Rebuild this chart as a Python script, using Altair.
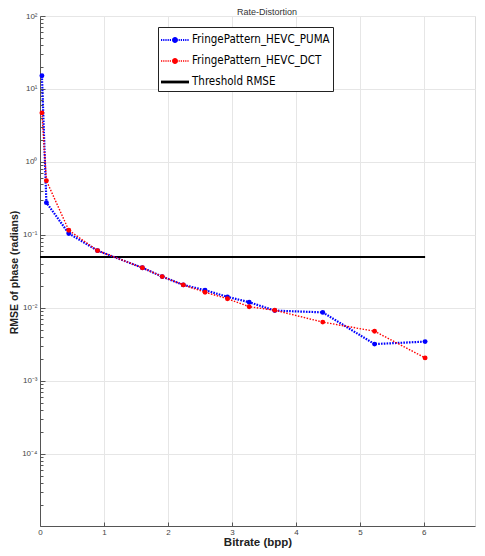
import altair as alt
import pandas as pd

# ---- data ----
bitrate = [0.03, 0.10, 0.45, 0.90, 1.60, 1.91, 2.24, 2.58, 2.93, 3.27, 3.67, 4.42, 5.23, 6.02]
rmse_puma = [15.2, 0.277, 0.105, 0.061, 0.0356, 0.0269, 0.0207, 0.0175, 0.0142, 0.0120, 0.0092, 0.0087, 0.0032, 0.00346]
rmse_dct = [4.7, 0.555, 0.116, 0.061, 0.0356, 0.0269, 0.0207, 0.0164, 0.0134, 0.0104, 0.0093, 0.0064, 0.0048, 0.00207]
threshold_bitrate = [0.0, 6.02]
threshold_rmse = [0.05, 0.05]
series = ["FringePattern_HEVC_PUMA", "FringePattern_HEVC_DCT", "Threshold RMSE"]
colors = ["#0000ff", "#ff0000", "#000000"]
chart_title = ["Rate-Distortion"]
x_ticks = [0, 1, 2, 3, 4, 5, 6, 7]
y_major = [0.0001, 0.001, 0.01, 0.1, 1, 10, 100]
y_minor = [round(k * 10.0 ** e, 8) for e in range(-5, 2) for k in range(1, 10)] + [100]

rows = []
for x, y in zip(bitrate, rmse_puma):
    rows.append({"series": series[0], "bitrate": x, "rmse": y})
for x, y in zip(bitrate, rmse_dct):
    rows.append({"series": series[1], "bitrate": x, "rmse": y})
for x, y in zip(threshold_bitrate, threshold_rmse):
    rows.append({"series": series[2], "bitrate": x, "rmse": y})
df = pd.DataFrame(rows)

W, H = 435, 510
FONT = "Liberation Sans, Arial, sans-serif"
LEG_FONT = "Liberation Sans Narrow, DejaVu Sans Condensed, Liberation Sans"


# ---- legend symbol paths (dotted line + marker), unit = half symbol size ----
def dotted_path(h, with_circle):
    parts = []
    x = -1.0
    while x < 1.75:
        if not (with_circle and 0.05 < x + 0.06 < 0.75):
            parts.append(f"M{x:.3f},{-h/2:.3f}h0.12v{h:.3f}h-0.12Z")
        x += 0.22
    if with_circle:
        parts.append("M0.7,0A0.3,0.3,0,1,1,0.1,0A0.3,0.3,0,1,1,0.7,0Z")
    return "".join(parts)


shape_range = [
    dotted_path(0.22, True),
    dotted_path(0.16, True),
    "M-1,-0.14H1.8V0.14H-1Z",
]

color_scale = alt.Scale(domain=series, range=colors)
xs = alt.Scale(domain=[0, 6.8], nice=False, zero=False)
ys = alt.Scale(type="log", domain=[0.0000103, 100], nice=False)

ylab = ("datum.value==100?'10²':datum.value==10?'10¹':datum.value==1?'10⁰':"
        "datum.value==0.1?'10⁻¹':datum.value==0.01?'10⁻²':datum.value==0.001?'10⁻³':"
        "datum.value==0.0001?'10⁻⁴':''")

legend_cfg = dict(
    title=None, orient="none", legendX=118, legendY=11,
    symbolSize=400, symbolOpacity=1, symbolStrokeWidth=0,
    labelFont=LEG_FONT, labelFontSize=11.5, labelColor="#000", labelLimit=400,
    labelOffset=11, strokeColor="#222", fillColor="#ffffff", padding=3, rowPadding=5,
)

base = alt.Chart(df)

legend_layer = base.mark_point(filled=True, opacity=0, size=1).encode(
    x=alt.X("bitrate:Q", scale=xs, axis=None),
    y=alt.Y("rmse:Q", scale=ys, axis=None),
    color=alt.Color("series:N", scale=color_scale, legend=alt.Legend(**legend_cfg)),
    shape=alt.Shape("series:N", scale=alt.Scale(domain=series, range=shape_range),
                    legend=alt.Legend(**legend_cfg)),
)

threshold = base.transform_filter(alt.datum.series == series[2]).mark_line(strokeWidth=2).encode(
    x=alt.X("bitrate:Q", scale=xs, axis=alt.Axis(
        orient="bottom", values=x_ticks, title="Bitrate (bpp)", ticks=False, grid=True,
        gridColor="#e6e6e6", domainColor="#555", labelColor="#444", labelFontSize=8,
        labelPadding=2, labelFont=FONT, titleFont=FONT, titleFontSize=11.5,
        titleFontWeight="bold", titleColor="#222", titleY=19, titleBaseline="alphabetic",
        labelFlush=False)),
    y=alt.Y("rmse:Q", scale=ys, axis=alt.Axis(
        orient="left", values=y_major, labelExpr=ylab, title="RMSE of phase (radians)",
        ticks=False, grid=True, gridColor="#e6e6e6", domainColor="#555", labelColor="#444",
        labelFontSize=8, labelPadding=3, labelFont=FONT, titleFont=FONT, titleFontSize=10.5,
        titleFontWeight="bold", titleColor="#222", titleX=-26, titleY=256,
        titleBaseline="middle", titleAlign="center", titleAngle=-90, labelFlush=False)),
    color=alt.Color("series:N", scale=color_scale, legend=None),
)

puma_line = base.transform_filter(alt.datum.series == series[0]).mark_line(
    strokeWidth=2.2, strokeDash=[1.6, 1.2]).encode(
    x=alt.X("bitrate:Q", scale=xs, axis=alt.Axis(
        orient="top", offset=-H, values=x_ticks, labels=False, domain=False, grid=False,
        ticks=True, tickSize=4, tickColor="#555", title=None)),
    y=alt.Y("rmse:Q", scale=ys, axis=alt.Axis(
        orient="right", offset=-W, values=y_minor, labels=False, domain=False, grid=False,
        ticks=True, tickColor="#555", title=None,
        tickSize={"condition": {"test": "abs(log(datum.value)/LN10 - round(log(datum.value)/LN10)) < 0.001",
                                "value": 5}, "value": 3})),
    color=alt.Color("series:N", scale=color_scale, legend=None),
)

dct_line = base.transform_filter(alt.datum.series == series[1]).mark_line(
    strokeWidth=1.4, strokeDash=[1.5, 1.5]).encode(
    x=alt.X("bitrate:Q", scale=xs, axis=None),
    y=alt.Y("rmse:Q", scale=ys, axis=None),
    color=alt.Color("series:N", scale=color_scale, legend=None),
)

puma_pts = base.transform_filter(alt.datum.series == series[0]).mark_point(
    filled=True, size=24, opacity=1).encode(
    x=alt.X("bitrate:Q", scale=xs, axis=None),
    y=alt.Y("rmse:Q", scale=ys, axis=None),
    color=alt.Color("series:N", scale=color_scale, legend=None),
)

dct_pts = base.transform_filter(alt.datum.series == series[1]).mark_point(
    filled=True, size=24, opacity=1).encode(
    x=alt.X("bitrate:Q", scale=xs, axis=None),
    y=alt.Y("rmse:Q", scale=ys, axis=None),
    color=alt.Color("series:N", scale=color_scale, legend=None),
)

title_text = alt.Chart(pd.DataFrame({"title": chart_title})).mark_text(
    font=FONT, fontSize=9, color="#333", align="center", baseline="alphabetic"
).encode(
    text="title:N",
    x=alt.value(227),
    y=alt.value(-1),
)

chart = alt.layer(
    legend_layer, threshold, puma_line, dct_line, puma_pts, dct_pts, title_text
).properties(
    width=W, height=H,
    autosize=alt.AutoSizeParams(type="none"),
    padding={"left": 32, "top": 8, "right": 2, "bottom": 22},
).configure_view(strokeWidth=0).configure(background="white")

chart.save("out.html", embed_options={"renderer": "svg", "actions": False})
